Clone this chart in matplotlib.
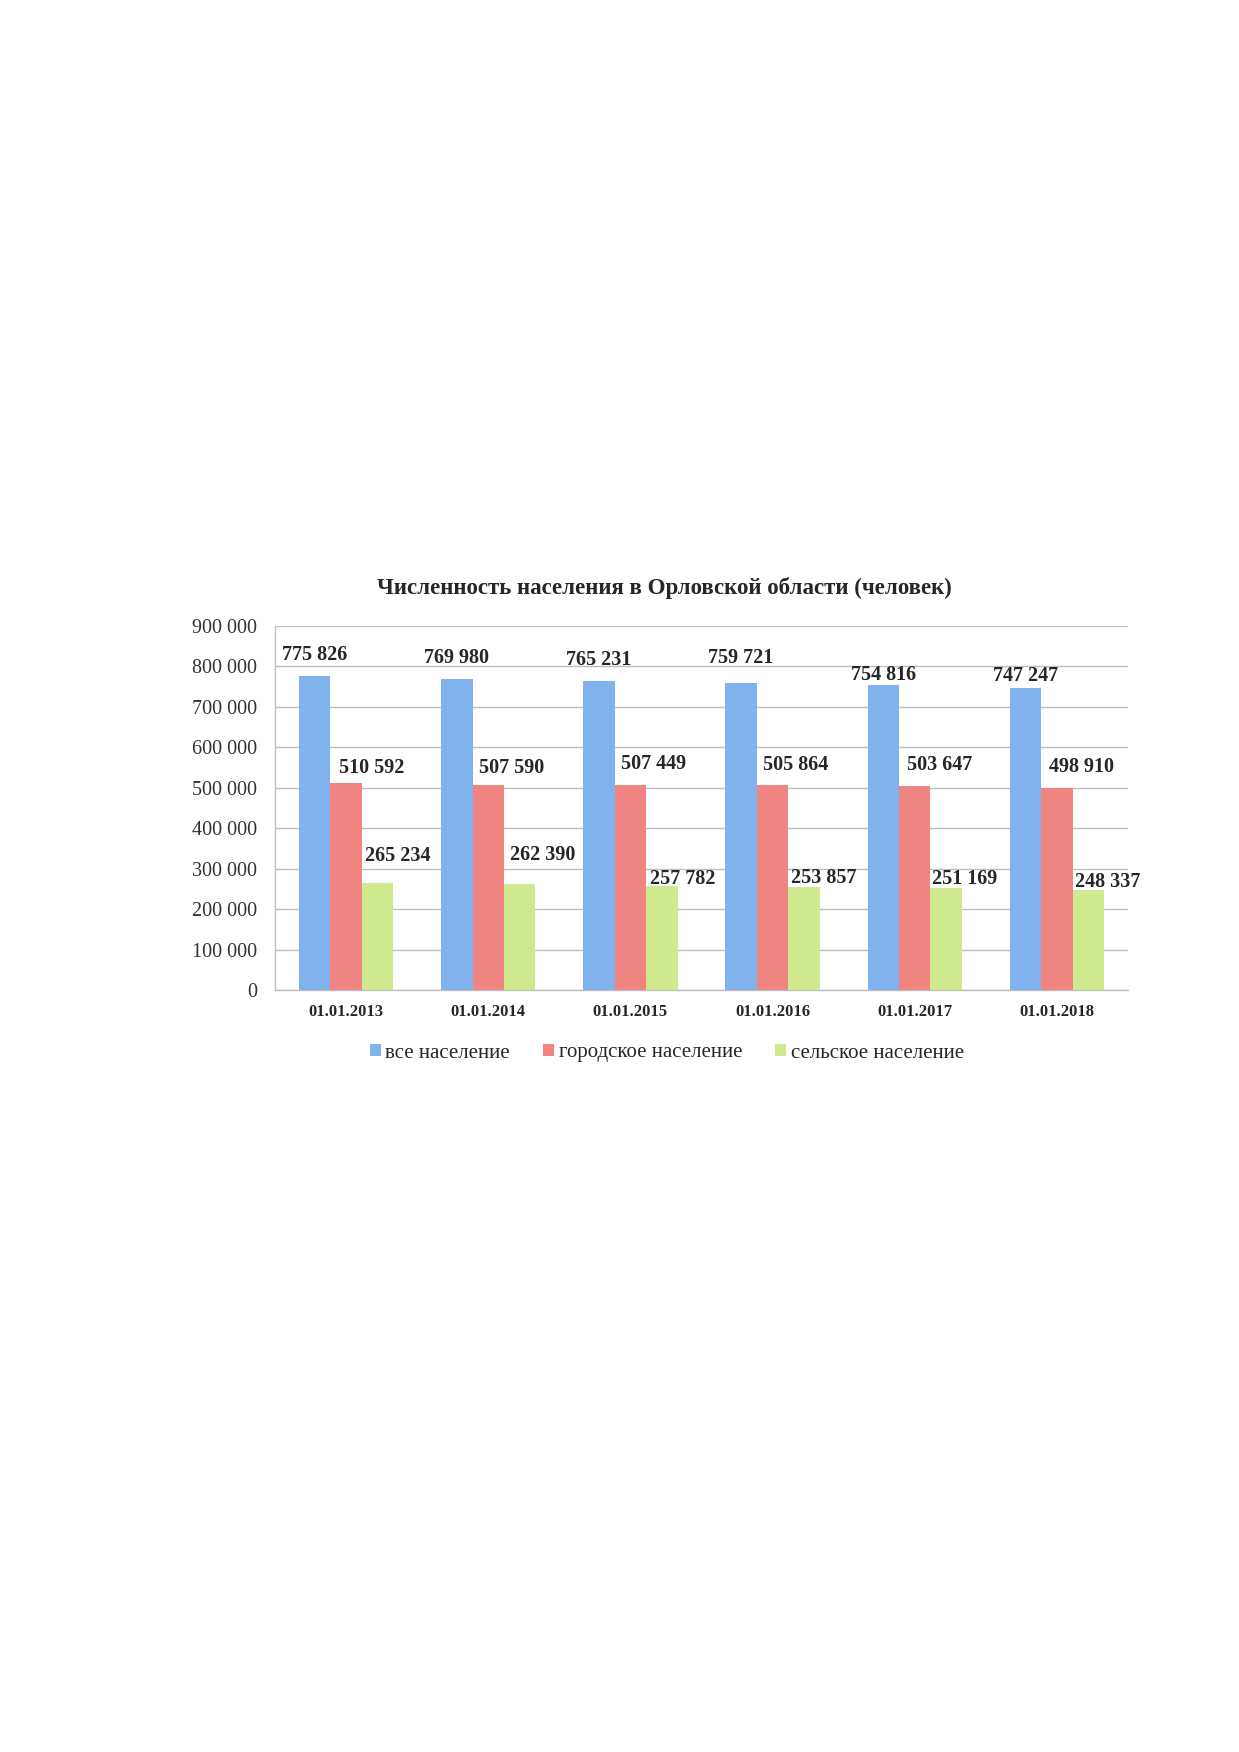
import matplotlib
matplotlib.use("Agg")
import matplotlib.pyplot as plt
import numpy as np

plt.rcParams['font.family'] = ['Liberation Serif', 'DejaVu Serif']

categories = ["01.01.2013", "01.01.2014", "01.01.2015", "01.01.2016", "01.01.2017", "01.01.2018"]
all_pop = [775826, 769980, 765231, 759721, 754816, 747247]
urban_pop = [510592, 507590, 507449, 505864, 503647, 498910]
rural_pop = [265234, 262390, 257782, 253857, 251169, 248337]
series_names = ["все население", "городское население", "сельское население"]
title = "Численность населения в Орловской области (человек)"

colors = ["#80B2EE", "#F08480", "#CFEA8E"]

# manual label offsets (pixels): dx, dy above bar top
label_dx = [[0, 0, 0, 0, 0, 0],
            [26, 23, 23, 23, 25, 25],
            [20, 23, 21, 20, 18, 19]]
label_dy = [[21, 21, 21, 25, 10, 12],
            [15, 17, 21, 20, 21, 21],
            [27, 29, 7, 9, 9, 8]]

def fmt(v):
    return f"{v:,}".replace(",", " ")

W, H = 1239, 1752
fig = plt.figure(figsize=(W / 100, H / 100), dpi=100)
ax = fig.add_axes([275 / W, 1 - 990 / H, 853 / W, 364 / H])

x = np.arange(len(categories))
bw = 0.2215
data = [all_pop, urban_pop, rural_pop]
bars = []
for i, (vals, c, name) in enumerate(zip(data, colors, series_names)):
    b = ax.bar(x + (i - 1) * bw, vals, width=bw, color=c, label=name, zorder=3)
    bars.append(b)
    for j, v in enumerate(vals):
        ax.annotate(fmt(v), xy=(x[j] + (i - 1) * bw, v),
                    xytext=(label_dx[i][j] * 0.72, label_dy[i][j] * 0.72),
                    textcoords="offset points", ha="center", va="center",
                    fontsize=14.5, fontweight="bold", color="#262626", zorder=5)

ax.set_xlim(-0.5, len(categories) - 0.5)
ax.set_ylim(0, 900000)
ax.set_yticks(np.arange(0, 900001, 100000))
ax.set_yticklabels([fmt(int(t)) for t in np.arange(0, 900001, 100000)], fontsize=14.5, color="#333333")
ax.set_xticks(x)
ax.set_xticklabels(categories, fontsize=12, fontweight="bold", color="#262626")
ax.tick_params(axis="y", length=0, pad=13)
ax.tick_params(axis="x", length=0, pad=10)
ax.grid(axis="y", color="#BFBFBF", linewidth=1.0, zorder=0)
for s in ["top", "right"]:
    ax.spines[s].set_visible(False)
ax.spines["left"].set_color("#BFBFBF")
ax.spines["bottom"].set_color("#BFBFBF")
ax.spines["left"].set_linewidth(1.0)
ax.spines["bottom"].set_linewidth(1.0)

fig.text(664.5 / W, 1 - 588 / H, title, ha="center", va="center",
         fontsize=16.5, fontweight="bold", color="#262626")

leg = fig.legend(handles=bars, labels=series_names, loc="center",
                 bbox_to_anchor=(667 / W, 1 - 1053 / H), ncol=3, frameon=False,
                 fontsize=15, handlelength=0.53, handleheight=0.48,
                 handletextpad=0.2, columnspacing=1.6, borderpad=0)
for t in leg.get_texts():
    t.set_color("#262626")

fig.savefig("out.png", dpi=100, facecolor="white")
